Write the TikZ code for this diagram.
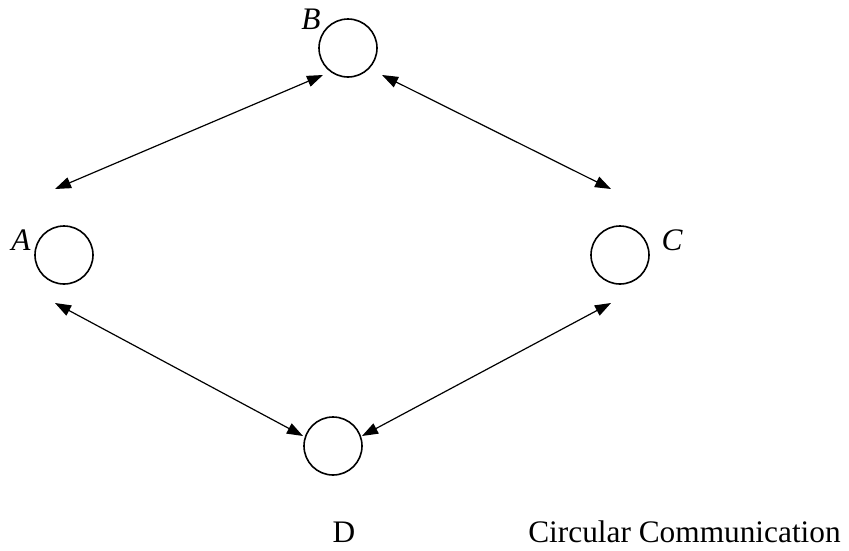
\documentclass[tikz,border=0pt]{standalone}
\usepackage{fontspec}
\setmainfont{Liberation Serif}
\usetikzlibrary{arrows.meta}
\tikzset{
  site/.style={circle,draw,line width=1.2pt,minimum size=43.5pt,inner sep=0pt},
  link/.style={{Triangle[length=12pt,width=8.5pt]}-{Triangle[length=12pt,width=8.5pt]},line width=0.9pt},
  lbl/.style={inner sep=0pt,font=\fontsize{23.5}{26}\selectfont}
}
\begin{document}
\begin{tikzpicture}[x=0.75pt,y=0.75pt,yscale=-1,xscale=1]
\useasboundingbox (0,0) rectangle (849,550);
% the four sites
\node [site] (siteB) at (348,48) {};
\node [site] (siteA) at (64,255) {};
\node [site] (siteC) at (620,255) {};
\node [site] (siteD) at (333,446) {};
% arrow ends
\coordinate (bA) at (323,75);
\coordinate (bC) at (382,75);
\coordinate (aB) at (55,189);
\coordinate (aD) at (55,303);
\coordinate (cB) at (611,189);
\coordinate (cD) at (611,303);
\coordinate (dA) at (303,436);
\coordinate (dC) at (362,436);
\draw [link] (aB) -- (bA);
\draw [link] (bC) -- (cB);
\draw [link] (aD) -- (dA);
\draw [link] (cD) -- (dC);
% labels
\node [lbl] (labB) at (311,19) {\itshape B};
\node [lbl] (labA) at (21,240) {\itshape A};
\node [lbl] (labC) at (672,240) {\itshape C};
\node [lbl] (labD) at (344,532) {D};
\node [lbl] (title) at (684.5,532) {Circular Communication};
\end{tikzpicture}
\end{document}
